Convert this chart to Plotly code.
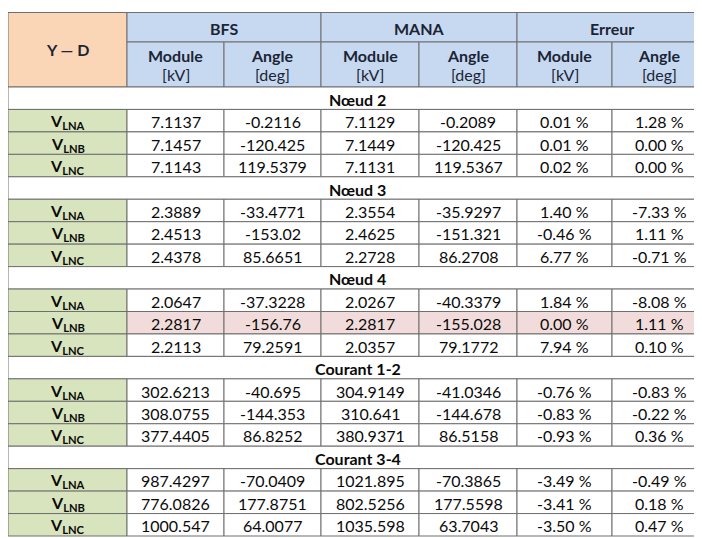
import plotly.graph_objects as go

# ---------------- data ----------------
groups = ["BFS", "MANA", "Erreur"]
sub_headers = [("Module", "[kV]"), ("Angle", "[deg]")]
corner_label = "Y — D"
sections = ["Nœud 2", "Nœud 3", "Nœud 4", "Courant 1-2", "Courant 3-4"]
phases = ["LNA", "LNB", "LNC"]

bfs_module = ["7.1137", "7.1457", "7.1143",
              "2.3889", "2.4513", "2.4378",
              "2.0647", "2.2817", "2.2113",
              "302.6213", "308.0755", "377.4405",
              "987.4297", "776.0826", "1000.547"]
bfs_angle = ["-0.2116", "-120.425", "119.5379",
             "-33.4771", "-153.02", "85.6651",
             "-37.3228", "-156.76", "79.2591",
             "-40.695", "-144.353", "86.8252",
             "-70.0409", "177.8751", "64.0077"]
mana_module = ["7.1129", "7.1449", "7.1131",
               "2.3554", "2.4625", "2.2728",
               "2.0267", "2.2817", "2.0357",
               "304.9149", "310.641", "380.9371",
               "1021.895", "802.5256", "1035.598"]
mana_angle = ["-0.2089", "-120.425", "119.5367",
              "-35.9297", "-151.321", "86.2708",
              "-40.3379", "-155.028", "79.1772",
              "-41.0346", "-144.678", "86.5158",
              "-70.3865", "177.5598", "63.7043"]
err_module = [0.01, 0.01, 0.02,
              1.40, -0.46, 6.77,
              1.84, 0.00, 7.94,
              -0.76, -0.83, -0.93,
              -3.49, -3.41, -3.50]
err_angle = [1.28, 0.00, 0.00,
             -7.33, 1.11, -0.71,
             -8.08, 1.11, 0.10,
             -0.83, -0.22, 0.36,
             -0.49, 0.18, 0.47]
highlight = [(2, 1)]  # (section index, phase index)

# ---------------- layout constants ----------------
W, H = 702, 538
col_edges = [0, 119, 216, 313, 411, 509, 604, 699]
head_top, head_mid, head_bot = 4.5, 34, 79
row_h = 22.45

C_ORANGE = "#FBD6B6"
C_BLUE = "#C6D9F1"
C_GREEN = "#D8E4BD"
C_PINK = "#F2DCDB"
C_WHITE = "#FFFFFF"
C_LINE = "#6F6F6F"
C_HEAD_TXT = "#1C2535"
C_TXT = "#0A0A0A"
FONT = "Lato"
FS = 16

shapes = []
annos = []


def cell(x0, x1, y0, y1, fill):
    shapes.append(dict(type="rect", xref="x", yref="y", x0=x0, x1=x1, y0=y0, y1=y1,
                       fillcolor=fill, line=dict(color=C_LINE, width=1),
                       layer="below"))


def text(x, y, t, color=C_TXT, size=FS):
    annos.append(dict(x=x, y=y, xref="x", yref="y", text=t, showarrow=False,
                      font=dict(family=FONT, size=size, color=color),
                      xanchor="center", yanchor="middle"))


# header
cell(col_edges[0], col_edges[1], head_top, head_bot, C_ORANGE)
text((col_edges[0] + col_edges[1]) / 2, (head_top + head_bot) / 2, "<b>" + corner_label + "</b>", C_HEAD_TXT)
for g, name in enumerate(groups):
    xa, xb = col_edges[1 + 2 * g], col_edges[3 + 2 * g]
    cell(xa, xb, head_top, head_mid, C_BLUE)
    text((xa + xb) / 2, (head_top + head_mid) / 2 + 1, "<b>" + name + "</b>", C_HEAD_TXT)
    for s, (t1, t2) in enumerate(sub_headers):
        x0, x1 = col_edges[1 + 2 * g + s], col_edges[2 + 2 * g + s]
        cell(x0, x1, head_mid, head_bot, C_BLUE)
        text((x0 + x1) / 2, head_mid + 13, "<b>" + t1 + "</b>", C_HEAD_TXT)
        text((x0 + x1) / 2, head_mid + 32, t2, C_HEAD_TXT)

# body
columns = [bfs_module, bfs_angle, mana_module, mana_angle,
           [f"{v:.2f} %" for v in err_module], [f"{v:.2f} %" for v in err_angle]]
y = head_bot
for si, sec in enumerate(sections):
    cell(col_edges[0], col_edges[-1], y, y + row_h, C_WHITE)
    text((col_edges[0] + col_edges[-1]) / 2, y + row_h / 2 + 1, "<b>" + sec + "</b>")
    y += row_h
    for pi, ph in enumerate(phases):
        idx = si * 3 + pi
        cell(col_edges[0], col_edges[1], y, y + row_h, C_GREEN)
        text((col_edges[0] + col_edges[1]) / 2, y + row_h / 2 + 1,
             "<b>V<sub>" + ph + "</sub></b>")
        fill = C_PINK if (si, pi) in highlight else C_WHITE
        for c in range(6):
            x0, x1 = col_edges[c + 1], col_edges[c + 2]
            cell(x0, x1, y, y + row_h, fill)
            text((x0 + x1) / 2, y + row_h / 2 + 1, columns[c][idx])
        y += row_h

fig = go.Figure()
fig.update_layout(
    width=W, height=H,
    margin=dict(l=0, r=0, t=0, b=0),
    paper_bgcolor="white", plot_bgcolor="white",
    xaxis=dict(range=[0, W], visible=False, fixedrange=True),
    yaxis=dict(range=[H, 0], visible=False, fixedrange=True),
    shapes=shapes, annotations=annos, showlegend=False,
)
fig.write_html("out.html")
